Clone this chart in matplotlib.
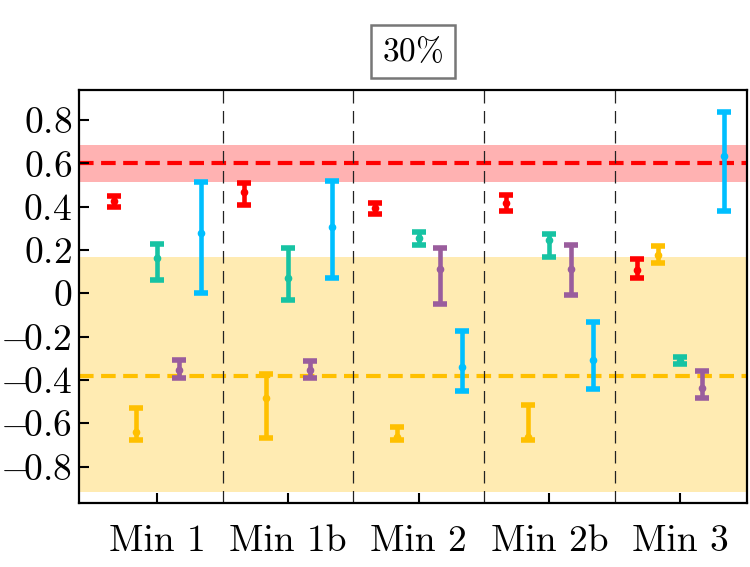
import matplotlib
matplotlib.use("Agg")
import matplotlib.pyplot as plt

plt.rcParams['font.family'] = 'serif'
plt.rcParams['font.serif'] = ['cmr10']
plt.rcParams['mathtext.fontset'] = 'cm'
plt.rcParams['axes.unicode_minus'] = False

groups = ['Min 1', 'Min 1b', 'Min 2', 'Min 2b', 'Min 3']

# central values with lower / upper ends of each error bar
red_c = [0.425, 0.469, 0.393, 0.416, 0.108]
red_lo = [0.399, 0.406, 0.365, 0.379, 0.072]
red_hi = [0.451, 0.508, 0.417, 0.455, 0.157]

yellow_c = [-0.640, -0.482, -0.662, -0.662, 0.177]
yellow_lo = [-0.679, -0.670, -0.679, -0.679, 0.139]
yellow_hi = [-0.530, -0.373, -0.616, -0.515, 0.218]

teal_c = [0.162, 0.069, 0.254, 0.246, -0.311]
teal_lo = [0.060, -0.032, 0.222, 0.168, -0.328]
teal_hi = [0.228, 0.208, 0.282, 0.274, -0.295]

purple_c = [-0.354, -0.354, 0.114, 0.114, -0.439]
purple_lo = [-0.393, -0.393, -0.051, -0.009, -0.482]
purple_hi = [-0.308, -0.314, 0.209, 0.222, -0.360]

blue_c = [0.280, 0.308, -0.339, -0.308, 0.634]
blue_lo = [0.000, 0.069, -0.453, -0.443, 0.380]
blue_hi = [0.516, 0.520, -0.173, -0.134, 0.836]

# reference values and their bands
red_ref, red_band = 0.6, (0.512, 0.686)
yellow_ref, yellow_band = -0.38, (-0.916, 0.169)

yticks = [-0.8, -0.6, -0.4, -0.2, 0, 0.2, 0.4, 0.6, 0.8]
ytick_labels = [r'$-\!0.8$', r'$-\!0.6$', r'$-\!0.4$', r'$-\!0.2$', r'$0$',
                r'$0.2$', r'$0.4$', r'$0.6$', r'$0.8$']

series = [
    (red_c, red_lo, red_hi, '#ff0000'),
    (yellow_c, yellow_lo, yellow_hi, '#ffc000'),
    (teal_c, teal_lo, teal_hi, '#17c3a3'),
    (purple_c, purple_lo, purple_hi, '#9a5d9d'),
    (blue_c, blue_lo, blue_hi, '#00bfff'),
]
offsets = [-1/3, -1/6, 0, 1/6, 1/3]

fig = plt.figure(figsize=(7.5, 5.67), dpi=100)
ax = fig.add_axes([0.1053, 0.1134, 0.8903, 0.7279])

ax.axhspan(red_band[0], red_band[1], color='#ff0000', alpha=0.3, lw=0, zorder=0)
ax.axhspan(yellow_band[0], yellow_band[1], color='#ffc000', alpha=0.3, lw=0, zorder=0)
ax.axhline(red_ref, color='#ff0000', ls='--', lw=3, dashes=(3.5, 1.8), zorder=1)
ax.axhline(yellow_ref, color='#ffc000', ls='--', lw=3, dashes=(3.5, 1.8), zorder=1)

for i in range(len(groups) - 1):
    ax.axvline(i + 0.5, color='#222222', lw=0.9, dashes=(10, 6), zorder=1)

for (c, lo, hi, col), off in zip(series, offsets):
    xs = [i + off for i in range(len(groups))]
    err = [[v - l for v, l in zip(c, lo)], [h - v for v, h in zip(c, hi)]]
    ax.errorbar(xs, c, yerr=err, fmt='o', ms=4.5, color=col, ecolor=col,
                elinewidth=3.3, capsize=4.8, capthick=4, zorder=3)

ax.set_xlim(-0.6, 4.51)
ax.set_ylim(-0.967, 0.939)
ax.set_xticks(range(len(groups)))
ax.set_xticklabels(groups)
ax.set_yticks(yticks)
ax.set_yticklabels(ytick_labels)

ax.tick_params(direction='in', length=7, width=1.5, labelsize=27)
ax.tick_params(axis='x', pad=16)
ax.tick_params(axis='y', pad=5)
for s in ax.spines.values():
    s.set_linewidth(1.6)

ax.text(0.5, 1.093, r'$30\%$', transform=ax.transAxes, ha='center', va='center',
        fontsize=24, bbox=dict(boxstyle='square,pad=0.34', fc='white', ec='#777777', lw=1.8))

fig.savefig('out.png', dpi=100)
